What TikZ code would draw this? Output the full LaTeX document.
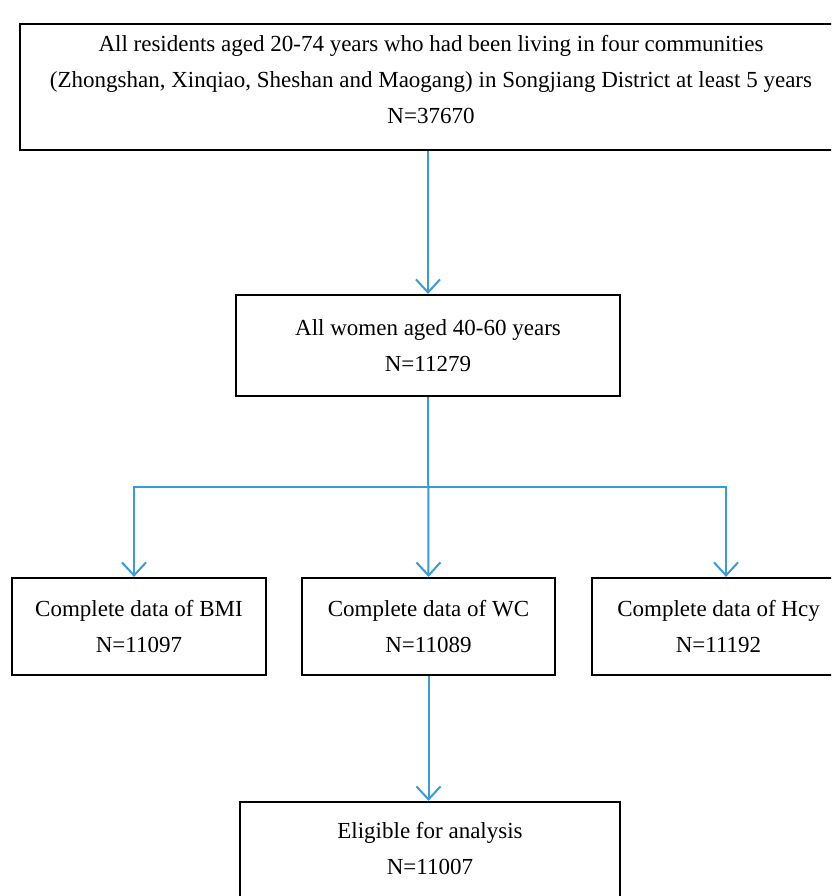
\documentclass[tikz,border=0pt]{standalone}
\usepackage{fontspec}
\setmainfont{Liberation Serif}
\usetikzlibrary{arrows.meta}
\definecolor{flowblue}{RGB}{58,155,218}
\tikzset{
  txt/.style={font=\fontsize{23}{36}\selectfont, align=center},
  box/.style={draw=black, line width=2.2pt, txt, inner sep=0pt},
  flow/.style={draw=flowblue, line width=2pt, -{Straight Barb[length=13pt,width=24pt,line width=2pt]}}
}
\begin{document}
\begin{tikzpicture}[x=1pt,y=-1pt]
\useasboundingbox (0,0) rectangle (831,896);
\clip (0,0) rectangle (831,896);
\fill[white] (0,0) rectangle (831,896);
\node[box, minimum width=826pt, minimum height=126pt] (top) at (433,87) {};
\node[txt] (toptext) at (431,80) {All residents aged 20-74 years who had been living in four communities\\(Zhongshan, Xinqiao, Sheshan and Maogang) in Songjiang District at least 5 years\\N=37670};
\node[box, minimum width=384pt, minimum height=101pt] (women) at (428,345.5) {All women aged 40-60 years\\N=11279};
\node[box, minimum width=254pt, minimum height=97pt] (bmi) at (139,626.5) {Complete data of BMI\\N=11097};
\node[box, minimum width=253pt, minimum height=97pt] (wc) at (428.5,626.5) {Complete data of WC\\N=11089};
\node[box, minimum width=253pt, minimum height=97pt] (hcy) at (718.5,626.5) {Complete data of Hcy\\N=11192};
\node[box, minimum width=380pt, minimum height=112pt] (elig) at (430,858) {};
\node[txt] (eligtext) at (430,848.5) {Eligible for analysis\\N=11007};
\coordinate (split) at (428,487);
\draw[flow] (women.north |- top.south) -- (women.north);
\draw[flow] (women.south) -- (wc.north);
\draw[flow] (split) -| ([xshift=-5pt]bmi.north);
\draw[flow] (split) -| ([xshift=7.5pt]hcy.north);
\draw[flow] (wc.south) -- (wc.south |- elig.north);
\end{tikzpicture}
\end{document}
